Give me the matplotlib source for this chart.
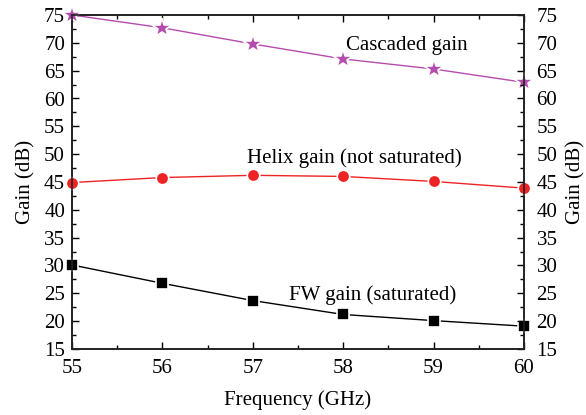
import matplotlib
matplotlib.use("Agg")
import matplotlib.pyplot as plt
from matplotlib.ticker import MultipleLocator

plt.rcParams['font.family'] = ['Liberation Serif', 'DejaVu Serif']

freq = [55, 56, 57, 58, 59, 60]
cascaded_gain = [75.0, 72.7, 69.8, 67.1, 65.3, 62.9]
helix_gain = [44.9, 45.8, 46.2, 46.0, 45.1, 43.9]
fw_gain = [30.1, 26.8, 23.7, 21.2, 20.1, 19.1]

fig = plt.figure(figsize=(5.86, 4.15), dpi=100)
ax = fig.add_axes([72/586, 1 - 349/415, (524 - 72)/586, (349 - 15)/415])

style = dict(linewidth=1.0, markeredgecolor='white', markeredgewidth=1.2,
             clip_on=False, zorder=3)
ax.plot(freq, cascaded_gain, color='#B44CAE', marker='*', markersize=15, **style)
ax.plot(freq, helix_gain, color='#EE2424', marker='o', markersize=9, **style)
ax.plot(freq, fw_gain, color='black', marker='s', markersize=8, **style)

ax.set_xlim(55, 60)
ax.set_ylim(15, 75)
ax.xaxis.set_major_locator(MultipleLocator(1))
ax.xaxis.set_minor_locator(MultipleLocator(0.5))
ax.yaxis.set_major_locator(MultipleLocator(5))
ax.yaxis.set_minor_locator(MultipleLocator(2.5))

ax2 = ax.twinx()
ax2.set_ylim(15, 75)
ax2.yaxis.set_major_locator(MultipleLocator(5))
ax2.yaxis.set_minor_locator(MultipleLocator(2.5))

for a in (ax, ax2):
    a.tick_params(which='both', direction='in', labelsize=15, width=1.0)
    a.tick_params(which='major', length=5)
    a.tick_params(which='minor', length=3)
    for s in a.spines.values():
        s.set_linewidth(1.2)
        s.set_color('#222222')
ax.tick_params(axis='x', which='both', top=True, labeltop=False, pad=7)
ax.tick_params(axis='y', which='both', pad=5)
ax2.tick_params(axis='y', which='both', pad=9)
ax2.tick_params(axis='x', which='both', top=False, bottom=False)

ax.set_xlabel('Frequency (GHz)', fontsize=15, labelpad=9)
ax.set_ylabel('Gain (dB)', fontsize=15, labelpad=6)
ax2.set_ylabel('Gain (dB)', fontsize=15, labelpad=6)

ax.text(58.03, 68.7, 'Cascaded gain', fontsize=15, ha='left', va='baseline')
ax.text(56.94, 48.4, 'Helix gain (not saturated)', fontsize=15, ha='left', va='baseline')
ax.text(57.40, 23.8, 'FW gain (saturated)', fontsize=15, ha='left', va='baseline')

fig.savefig('out.png', dpi=100)
